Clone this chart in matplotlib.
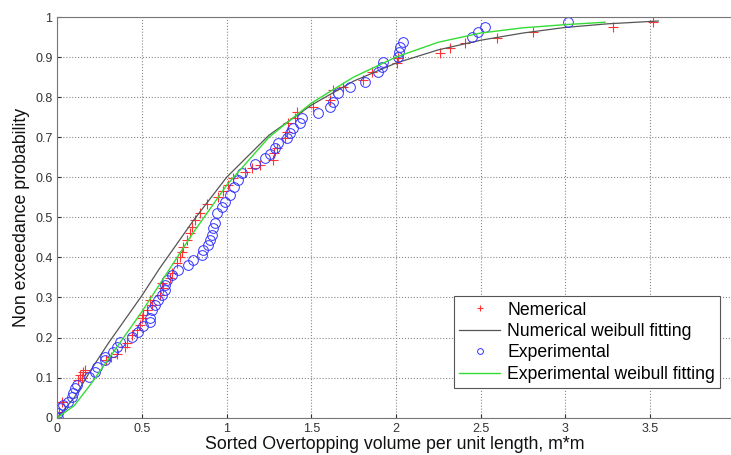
import numpy as np
import matplotlib
matplotlib.use('Agg')
import matplotlib.pyplot as plt

plt.rcParams['font.family'] = ['Liberation Sans', 'DejaVu Sans']

# Numerical results (sorted volume, non exceedance probability)
num_x = [0.0, 0.012, 0.026, 0.124, 0.134, 0.144, 0.154, 0.164, 0.29, 0.317, 0.35, 0.40,
         0.41, 0.44, 0.469, 0.488, 0.498, 0.508, 0.528, 0.557, 0.548, 0.607, 0.626,
         0.617, 0.666, 0.676, 0.705, 0.725, 0.735, 0.744, 0.764, 0.784, 0.794, 0.813,
         0.843, 0.882, 0.95, 0.98, 1.01, 1.04, 1.109, 1.148, 1.197, 1.276, 1.28, 1.296,
         1.345, 1.355, 1.365, 1.404, 1.414, 1.512, 1.61, 1.63, 1.69, 1.808, 1.857,
         2.005, 2.014, 2.26, 2.32, 2.408, 2.595, 2.81, 3.284, 3.52]
num_y = [0.0, 0.015, 0.04, 0.094, 0.107, 0.10, 0.115, 0.119, 0.144, 0.152, 0.16, 0.177,
         0.187, 0.206, 0.219, 0.231, 0.248, 0.256, 0.269, 0.281, 0.294, 0.306, 0.323,
         0.335, 0.348, 0.36, 0.385, 0.402, 0.414, 0.427, 0.443, 0.46, 0.475, 0.493,
         0.51, 0.533, 0.55, 0.565, 0.58, 0.597, 0.614, 0.622, 0.631, 0.643, 0.66, 0.672,
         0.697, 0.714, 0.735, 0.747, 0.764, 0.776, 0.793, 0.818, 0.826, 0.843, 0.864,
         0.884, 0.897, 0.909, 0.922, 0.934, 0.947, 0.963, 0.976, 0.988]

# Experimental results
exp_x = [0.006, 0.006, 0.016, 0.035, 0.065, 0.085, 0.095, 0.105, 0.115, 0.189, 0.223,
         0.233, 0.282, 0.282, 0.331, 0.351, 0.37, 0.44, 0.478, 0.508, 0.548, 0.548,
         0.557, 0.577, 0.597, 0.617, 0.636, 0.636, 0.646, 0.676, 0.715, 0.774, 0.803,
         0.853, 0.862, 0.892, 0.902, 0.912, 0.921, 0.931, 0.941, 0.971, 0.99, 1.02,
         1.045, 1.069, 1.089, 1.168, 1.227, 1.256, 1.286, 1.305, 1.355, 1.374, 1.394,
         1.434, 1.443, 1.542, 1.611, 1.63, 1.66, 1.729, 1.818, 1.896, 1.916, 1.926,
         2.014, 2.02, 2.024, 2.044, 2.448, 2.487, 2.526, 3.018]
exp_y = [0.0, 0.011, 0.023, 0.032, 0.04, 0.052, 0.061, 0.073, 0.082, 0.102, 0.115,
         0.127, 0.144, 0.152, 0.165, 0.177, 0.19, 0.202, 0.215, 0.229, 0.24, 0.248,
         0.269, 0.281, 0.294, 0.306, 0.319, 0.331, 0.344, 0.356, 0.369, 0.381, 0.394,
         0.406, 0.419, 0.431, 0.443, 0.456, 0.473, 0.485, 0.51, 0.527, 0.539, 0.556,
         0.575, 0.593, 0.61, 0.633, 0.647, 0.658, 0.672, 0.685, 0.697, 0.71, 0.722,
         0.735, 0.747, 0.76, 0.776, 0.789, 0.81, 0.825, 0.839, 0.864, 0.876, 0.888,
         0.901, 0.913, 0.926, 0.938, 0.951, 0.963, 0.976, 0.988]

# Weibull fitting curves
num_fit_x = [0.0, 0.1, 0.2, 0.3, 0.4, 0.5, 0.6, 0.7, 0.8, 0.9, 1.0, 1.25, 1.5, 1.75,
             2.0, 2.25, 2.5, 2.75, 3.0, 3.25, 3.55]
num_fit_y = [0.0, 0.05, 0.12, 0.185, 0.245, 0.305, 0.37, 0.43, 0.49, 0.545, 0.60, 0.705,
             0.78, 0.84, 0.885, 0.918, 0.942, 0.96, 0.974, 0.983, 0.99]
exp_fit_x = [0.0, 0.1, 0.2, 0.3, 0.4, 0.5, 0.6, 0.7, 0.8, 0.9, 1.0, 1.25, 1.5, 1.75,
             2.0, 2.25, 2.5, 2.75, 3.0, 3.235]
exp_fit_y = [0.0, 0.03, 0.085, 0.145, 0.205, 0.265, 0.33, 0.395, 0.46, 0.52, 0.58, 0.70,
             0.785, 0.85, 0.90, 0.937, 0.96, 0.973, 0.981, 0.987]

fig = plt.figure(figsize=(7.31, 4.55), dpi=100)
ax = fig.add_axes([0.0784, 0.082, 0.9264, 0.8806])

ax.plot(num_x, num_y, '+', color='#ff3333', ms=7, mew=0.8, label='Nemerical')
ax.plot(num_fit_x, num_fit_y, '-', color='#555555', lw=0.9, label='Numerical weibull fitting')
ax.plot(exp_x, exp_y, 'o', mfc='none', mec='#3333ff', ms=7, mew=0.7, label='Experimental')
ax.plot(exp_fit_x, exp_fit_y, '-', color='#33dd33', lw=1.0, label='Experimental weibull fitting')

ax.set_xlim(0, 4)
ax.set_ylim(0, 1)
ax.set_xticks(np.arange(0, 3.51, 0.5))
ax.set_xticklabels(['0', '0.5', '1', '1.5', '2', '2.5', '3', '3.5'])
ax.set_yticks(np.arange(0, 1.01, 0.1))
ax.set_yticklabels(['0', '0.1', '0.2', '0.3', '0.4', '0.5', '0.6', '0.7', '0.8', '0.9', '1'])
ax.tick_params(direction='in', labelsize=9, length=3, colors='#333333')
ax.grid(True, linestyle=':', color='#888888', lw=0.8)
for s in ax.spines.values():
    s.set_color('#777777')

ax.set_xlabel('Sorted Overtopping volume per unit length, m*m', fontsize=12.8, color='#111111')
ax.set_ylabel('Non exceedance probability', fontsize=12.8, color='#111111')
ax.xaxis.set_label_coords(0.4987, -0.045)

leg = ax.legend(loc='lower right', bbox_to_anchor=(0.979, 0.074), borderaxespad=0,
                fontsize=12.7, fancybox=False, framealpha=1, edgecolor='#555555',
                handlelength=2.3, handletextpad=0.4, labelspacing=0.25, borderpad=0.3,
                markerscale=0.6)
leg.get_frame().set_linewidth(0.8)

fig.savefig('out.png', dpi=100)
